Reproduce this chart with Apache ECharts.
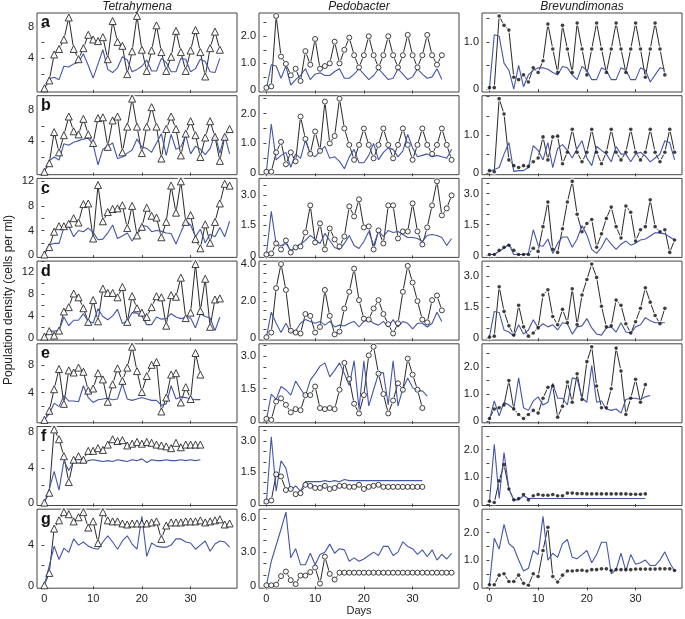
<!DOCTYPE html>
<html><head><meta charset="utf-8">
<script src="https://cdn.jsdelivr.net/npm/echarts@6/dist/echarts.min.js"></script>
<style>html,body{margin:0;padding:0;background:#fff}#c{width:685px;height:619px}</style>
</head><body><div id="c"></div>
<script>
// ---- DATA (value per day, day = index) ----
const columnTitles = ['Tetrahymena', 'Pedobacter', 'Brevundimonas'];
const rowLetters = ['a', 'b', 'c', 'd', 'e', 'f', 'g'];
const xTickValues = [0, 10, 20, 30];

// Tetrahymena (triangles = observed, line = model)
const tet_a_pts = [0.2,1.2,4.5,5.2,6.4,9.2,5.2,3.9,5.3,7.0,6.4,6.2,6.7,3.9,8.75,6.1,5.6,2.0,4.9,9.4,5.1,2.4,5.0,8.2,4.8,2.4,4.2,7.5,4.8,2.4,5.0,7.6,4.8,1.7,5.3,7.4,5.1];
const tet_a_line = [0.1,1.4,1.6,1.3,3.0,2.9,3.3,3.5,4.6,3.1,1.5,3.3,5.1,2.6,2.2,2.8,4.2,3.8,2.3,2.6,3.0,3.8,2.4,2.4,4.0,3.5,2.3,2.3,4.0,3.9,2.3,2.7,3.9,3.6,2.3,2.2,4.0];
const tet_b_pts = [0.1,1.2,5.2,2.6,4.8,7.2,5.3,4.9,6.9,4.9,3.8,7.0,7.1,3.3,6.7,7.2,2.6,5.9,9.5,5.9,2.5,5.9,8.4,5.9,1.8,5.6,7.2,5.6,2.2,5.0,6.6,4.8,2.0,4.5,6.6,4.6,1.5,4.6,5.6];
const tet_b_line = [0.1,1.5,2.0,1.6,3.7,3.5,3.9,4.1,4.3,4.4,3.6,1.0,3.0,3.4,3.8,1.8,2.0,2.5,2.9,4.3,3.3,3.1,2.6,3.8,5.0,2.2,4.9,3.0,3.3,4.8,2.4,3.4,3.0,2.3,3.1,4.9,2.5,4.8,2.4];
const tet_c_pts = [0.1,1.3,3.8,4.7,4.7,5.1,6.0,5.3,8.3,8.4,2.7,11.4,5.5,7.0,7.5,7.6,8.1,4.4,8.0,3.2,4.6,7.7,6.4,6.1,2.9,5.4,11.3,6.9,12.0,5.4,6.5,2.6,1.1,5.0,2.0,5.4,8.4,11.6,11.3];
const tet_c_line = [0.1,1.7,1.9,1.9,4.5,4.7,3.0,4.0,3.8,4.4,3.7,2.5,2.6,3.6,4.9,2.7,3.1,3.6,2.3,3.4,4.8,4.7,3.8,4.0,3.9,3.6,3.5,1.8,3.7,5.5,4.9,3.0,4.2,2.0,3.4,3.0,4.5,3.0,5.5];
const tet_d_pts = [0.2,1.2,0.4,1.3,4.8,5.6,8.1,7.4,5.4,2.9,6.9,3.0,9.0,8.2,8.2,7.4,9.3,2.9,7.6,5.4,4.6,3.8,5.6,7.6,7.4,2.2,7.8,7.5,11.0,3.6,4.6,13.5,4.9,10.8,2.0,7.0,7.2];
const tet_d_line = [0.1,1.2,1.2,1.3,3.8,2.2,3.2,3.2,4.4,3.0,2.7,5.3,3.9,3.3,4.0,5.2,2.6,3.0,4.6,4.5,4.0,2.4,2.4,3.8,3.4,3.5,4.4,3.8,3.5,3.7,3.6,1.8,4.4,3.9,3.6,1.3,3.8];
const tet_e_pts = [0.1,1.4,4.5,7.4,2.4,7.2,6.9,7.6,7.0,4.3,4.6,6.8,5.9,2.7,5.2,7.5,5.7,7.6,10.6,7.1,4.1,6.4,8.0,8.4,1.3,3.3,6.6,6.8,2.6,4.8,3.1,9.7,6.6];
const tet_e_line = [0.1,1.0,2.5,2.0,3.6,2.8,2.8,2.7,5.0,3.3,2.6,3.0,3.1,3.2,3.0,3.1,5.3,3.1,2.9,3.1,3.3,3.1,2.9,2.9,2.2,2.4,5.0,3.1,3.4,3.3,3.1,3.0,3.0];
const tet_f_pts = [0.1,1.2,8.3,7.2,5.3,2.4,4.9,5.3,4.9,5.9,5.9,6.2,6.0,6.6,7.2,7.0,7.1,6.5,6.7,6.9,6.7,6.9,6.8,6.6,6.5,6.4,6.2,6.8,6.3,6.6,6.6,6.6,6.6];
const tet_f_line = [0.1,1.6,3.6,1.5,4.8,3.7,4.7,4.5,4.6,4.8,4.9,4.8,4.7,4.8,4.7,4.9,4.8,4.7,4.9,4.8,5.0,4.6,4.9,4.8,4.8,4.9,4.8,4.8,4.9,4.8,4.9,4.8,4.9];
const tet_g_pts = [0.1,1.3,5.6,6.4,7.2,7.0,6.3,6.7,7.2,5.7,6.3,4.2,7.2,6.4,6.3,6.3,6.1,6.0,6.1,6.1,6.1,6.1,6.2,6.3,4.6,5.9,6.2,6.2,6.2,6.3,6.3,6.3,6.4,6.2,6.3,6.4,6.5,6.0,6.1];
const tet_g_line = [0.1,2.0,3.9,2.6,3.7,3.3,4.6,4.0,4.3,3.9,3.7,3.6,4.3,4.9,4.3,3.6,4.4,4.9,4.1,3.6,6.8,2.9,4.2,3.9,3.8,3.8,4.0,4.6,4.6,4.3,4.2,3.6,4.0,4.4,3.4,4.1,4.4,4.3,3.8];

// Pedobacter (open circles = observed, line = model)
const ped_a_pts = [0.1,0.15,2.75,1.25,0.98,0.56,0.8,0.35,1.45,0.95,1.9,0.8,0.9,1.0,1.8,1.0,1.5,1.95,1.3,0.85,1.3,2.0,1.3,0.85,1.3,2.0,1.3,0.85,1.3,2.05,1.3,0.85,1.3,2.05,1.3,0.95,1.3];
const ped_a_line = [0.05,0.95,0.9,0.45,0.9,0.2,0.4,0.55,0.8,0.4,0.6,0.65,0.55,0.55,0.7,0.8,0.45,0.45,0.6,0.8,0.6,0.4,0.55,0.8,0.6,0.4,0.45,0.8,0.6,0.4,0.5,0.8,0.6,0.45,0.5,0.8,0.4];
const ped_b_pts = [0.05,0.05,0.7,1.05,0.3,0.7,0.4,1.9,1.15,0.65,1.4,0.75,2.4,1.0,1.25,2.5,1.5,0.95,0.45,0.95,1.5,0.95,0.5,0.95,1.5,0.95,0.5,0.95,1.5,0.95,0.45,0.95,1.5,0.95,0.65,0.95,1.5,0.95,0.45];
const ped_b_line = [0.05,1.65,0.45,0.6,0.7,0.2,0.65,0.5,1.1,0.65,0.55,0.75,0.9,0.5,0.55,0.4,0.15,0.55,0.8,0.35,0.35,0.6,1.0,0.45,0.7,0.85,0.8,0.55,0.75,1.3,0.85,0.55,0.6,0.65,0.55,0.6,0.55,0.5,0.8];
const ped_c_pts = [0.05,0.1,0.6,0.3,0.75,0.15,0.4,0.45,1.15,2.5,0.65,1.6,0.3,1.35,0.8,0.45,0.95,2.45,1.95,2.8,1.4,1.45,0.3,1.25,0.6,2.5,2.5,0.85,1.2,1.2,2.6,1.2,0.55,1.4,2.5,3.7,2.0,2.35,3.0];
const ped_c_line = [0.05,2.2,0.55,0.5,0.6,0.25,0.4,0.55,0.75,1.0,0.8,0.6,1.1,0.75,0.4,0.3,0.6,1.0,0.5,0.35,0.7,1.2,0.5,1.2,0.95,1.25,1.15,1.2,1.05,0.9,0.9,0.85,0.7,1.0,1.05,1.0,0.9,0.5,0.85];
const ped_d_pts = [0.05,0.3,2.7,4.0,2.6,0.4,0.3,0.25,1.3,1.2,0.3,0.6,2.6,1.2,0.2,0.35,1.6,2.5,3.75,2.05,1.05,1.0,1.6,2.05,1.3,0.75,0.25,0.8,2.5,3.9,3.0,2.0,1.0,0.85,2.05,2.3,1.5];
const ped_d_line = [0.05,1.4,0.8,0.3,0.8,0.3,0.4,0.8,1.0,0.9,0.8,0.9,0.7,0.9,0.6,0.7,0.65,0.8,0.9,0.6,0.9,1.0,0.8,0.7,0.9,0.6,1.0,0.6,0.9,0.8,0.5,0.8,0.8,0.6,0.8,1.4,0.9];
const ped_e_pts = [0.1,0.05,0.9,1.05,0.75,0.4,0.55,0.5,1.2,1.2,1.6,0.6,0.55,0.6,0.55,1.45,2.7,1.95,0.8,0.35,1.2,3.05,3.45,2.2,1.25,0.35,0.95,1.75,1.45,2.9,2.15,1.45,0.6];
const ped_e_line = [0.05,1.25,1.0,1.6,1.45,1.2,1.85,1.5,1.15,1.9,2.2,2.55,2.7,2.05,2.35,2.7,2.2,1.65,2.8,0.55,2.8,0.7,1.45,2.2,2.25,0.75,2.8,0.7,1.5,2.0,1.55,1.4,1.4,1.15];
const ped_f_pts = [0.1,0.15,1.4,1.3,0.65,0.7,0.45,0.5,0.9,0.85,0.75,0.75,0.85,0.7,0.75,0.85,0.85,0.8,0.8,0.9,0.7,0.8,0.85,0.9,0.8,0.8,0.8,0.8,0.8,0.8,0.8,0.8,0.8];
const ped_f_line = [0.05,3.2,0.6,2.05,1.7,0.65,0.85,0.6,1.05,1.05,1.05,1.05,1.1,1.05,1.1,1.05,1.15,1.1,1.1,1.1,1.1,1.1,1.1,1.1,1.1,1.1,1.1,1.1,1.1,1.1,1.1,1.1,1.1];
const ped_g_pts = [0.1,0.1,0.15,0.9,1.3,0.55,0.2,0.95,0.95,1.25,1.65,0.25,2.6,1.1,0.6,1.2,1.2,1.2,1.2,1.2,1.2,1.2,1.2,1.2,1.2,1.2,1.2,1.2,1.2,1.2,1.2,1.2,1.2,1.2,1.2,1.2,1.2,1.2,1.2];
const ped_g_line = [0.1,2.2,3.6,5.0,6.5,2.5,3.3,1.9,1.9,2.9,1.9,2.8,3.0,3.7,2.9,3.3,3.2,2.2,2.5,2.2,2.4,2.7,3.0,2.7,3.5,3.5,2.7,3.0,3.9,3.5,3.3,2.8,3.2,2.6,3.2,2.3,2.8,2.4,2.9];

// Brevundimonas (filled dots = observed, line = model)
const brv_a_pts = [0.03,0.03,1.55,1.35,1.25,0.25,0.2,0.3,0.15,0.45,0.35,0.6,1.38,0.85,0.35,1.35,0.85,0.35,1.4,0.85,0.3,0.85,1.4,0.85,0.35,0.85,1.4,0.85,0.35,0.85,1.4,0.85,0.25,0.85,1.4,0.85,0.3];
const brv_a_line = [0.0,1.15,1.12,0.55,0.4,0.0,0.5,0.05,0.3,0.4,0.45,0.45,0.42,0.35,0.3,0.48,0.45,0.3,0.2,0.48,0.4,0.2,0.2,0.45,0.4,0.2,0.2,0.45,0.4,0.2,0.2,0.45,0.4,0.15,0.3,0.45,0.42];
const brv_b_pts = [0.07,0.04,1.95,1.55,0.35,0.2,0.15,0.2,0.18,0.3,0.4,0.95,0.35,0.95,0.97,0.25,0.55,1.15,0.55,0.3,0.55,1.15,0.55,0.25,0.55,1.15,0.55,0.35,0.55,1.15,0.55,0.35,0.55,1.15,0.55,0.3,0.55,1.15,0.55];
const brv_b_line = [0.05,0.1,0.15,0.5,0.8,0.05,0.07,0.07,0.15,0.72,0.6,0.35,0.8,0.15,0.65,0.75,0.6,0.4,0.65,0.85,0.4,0.2,0.7,0.6,0.5,0.3,0.7,0.5,0.5,0.3,0.5,0.55,0.45,0.3,0.4,0.5,0.85,0.8,0.35];
const brv_c_pts = [0.05,0.05,0.25,0.4,0.5,0.25,0.05,0.05,0.05,0.35,0.2,1.4,2.6,0.3,0.15,1.3,2.6,3.6,2.0,1.15,1.55,1.75,0.4,1.05,1.8,2.35,1.4,0.85,2.4,2.1,0.7,1.25,1.4,2.7,1.4,1.15,1.25,0.15,0.75];
const brv_c_line = [0.05,0.05,0.2,0.35,0.55,0.05,0.05,0.05,0.1,1.25,0.5,0.45,0.8,0.1,0.6,0.9,0.9,0.4,0.8,1.45,1.0,0.3,0.1,0.4,0.85,0.55,0.3,0.55,0.7,0.5,0.6,0.75,0.8,0.95,1.1,1.1,1.05,0.9,0.75];
const brv_d_pts = [0.05,0.1,2.5,1.3,0.6,0.15,1.6,0.55,0.1,0.25,0.5,2.1,2.35,1.05,0.65,1.4,0.75,2.4,0.65,2.1,2.85,3.6,2.95,1.55,0.55,0.6,1.85,1.6,0.7,0.25,0.8,1.45,2.45,1.75,1.1,0.7,1.45];
const brv_d_line = [0.05,1.3,1.25,0.4,0.3,0.1,0.65,0.2,0.4,0.9,0.5,0.7,0.55,0.65,0.4,0.75,0.7,0.2,0.55,0.6,0.95,0.5,0.2,0.15,0.5,0.55,0.3,0.75,0.3,0.25,0.55,0.65,1.0,0.85,0.75,0.75,0.75];
const brv_e_pts = [0.1,0.45,0.5,0.6,1.5,0.45,0.25,0.1,0.25,0.4,0.3,0.85,1.25,1.3,0.15,0.55,1.45,0.7,1.75,0.8,2.2,2.75,1.3,0.5,0.5,1.2,2.7,1.85,0.25,0.85,1.55,0.7,1.35];
const brv_e_line = [0.05,0.75,0.2,0.7,0.6,0.45,1.6,0.5,0.4,0.75,0.9,0.6,0.7,1.4,0.85,0.85,0.6,1.6,1.55,0.85,0.7,2.05,0.7,0.75,0.45,0.4,0.45,0.3,0.8,0.85,0.85,0.8,0.9,0.95];
const brv_f_pts = [0.1,0.05,0.85,1.45,0.55,0.15,0.2,0.35,0.15,0.3,0.35,0.32,0.32,0.35,0.3,0.3,0.4,0.4,0.38,0.38,0.37,0.37,0.37,0.37,0.37,0.37,0.37,0.37,0.37,0.36,0.36,0.36,0.37];
const brv_f_line = [0.05,2.2,0.2,1.9,0.55,0.15,0.15,0.3,0.2,0.2,0.2,0.2,0.2,0.2,0.2,0.2,0.2,0.2,0.2,0.2,0.2,0.2,0.2,0.2,0.2,0.2,0.2,0.2,0.2,0.2,0.2,0.2,0.2];
const brv_g_pts = [0.1,0.1,0.45,0.5,0.22,0.22,0.45,0.15,0.08,0.5,0.4,1.35,2.2,0.4,0.2,0.45,0.6,0.6,0.62,0.63,0.6,0.65,0.65,0.68,0.68,0.62,0.65,0.65,0.65,0.65,0.67,0.67,0.67,0.67,0.67,0.68,0.68,0.68,0.62];
const brv_g_line = [0.1,1.8,1.4,2.3,1.6,1.45,1.0,0.6,0.7,1.35,1.2,2.6,1.0,1.25,1.1,1.6,1.75,1.1,1.05,1.2,1.35,0.9,1.2,1.65,1.65,0.5,0.65,1.25,0.6,1.2,0.85,0.9,1.0,0.8,0.8,1.0,1.3,0.9,0.6];

// Axis tick settings per column (tick spacing / labelled spacing), rows a..g
const yTickStep = [[2,2,2,2,2,2,2],[0.5,0.5,0.5,0.5,0.5,0.5,1],[0.5,0.5,0.5,0.5,0.5,0.5,0.5]];
const yLabelStep = [[4,4,4,4,4,4,4],[1,1,1.5,2,1.5,1.5,3],[1,1,1.5,1.5,1,1,1]];
const yHideZero = [[true,true,false,false,true,false,false],[false,false,false,false,false,false,false],[false,false,false,false,false,false,false]];
const yMaxOverride = {'1-5': 3.55, '2-5': 2.75, '2-6': 2.75};
const yLabelMax = {'2-1': 1.0};

const panelData = [
  [[tet_a_pts,tet_a_line],[tet_b_pts,tet_b_line],[tet_c_pts,tet_c_line],[tet_d_pts,tet_d_line],[tet_e_pts,tet_e_line],[tet_f_pts,tet_f_line],[tet_g_pts,tet_g_line]],
  [[ped_a_pts,ped_a_line],[ped_b_pts,ped_b_line],[ped_c_pts,ped_c_line],[ped_d_pts,ped_d_line],[ped_e_pts,ped_e_line],[ped_f_pts,ped_f_line],[ped_g_pts,ped_g_line]],
  [[brv_a_pts,brv_a_line],[brv_b_pts,brv_b_line],[brv_c_pts,brv_c_line],[brv_d_pts,brv_d_line],[brv_e_pts,brv_e_line],[brv_f_pts,brv_f_line],[brv_g_pts,brv_g_line]]
];

// ---- LAYOUT / STYLE ----
const COL_LEFT = [37, 259, 482], COL_W = 200;
const ROW_TOP0 = 13, ROW_STEP = 82.7, ROW_H = 79;
const X_MIN = -1.52, X_MAX = 39.52;
const FONT = 'Liberation Sans, Arial, Helvetica, sans-serif';
const BLUE = '#4656a6', INK = '#111';
const markerStyle = [
  {symbol: 'triangle', size: 7, mask: 8, item: {color: '#fff', borderColor: INK, borderWidth: 1}},
  {symbol: 'circle', size: 5, mask: 7, item: {color: '#fff', borderColor: INK, borderWidth: 1}},
  {symbol: 'circle', size: 3.6, mask: 6, item: {color: INK}}
];

const grids = [], xAxes = [], yAxes = [], series = [], graphics = [];
function fmt(col, v) {
  if (col === 0) return String(Math.round(v));
  return v === 0 ? '0' : v.toFixed(1);
}
let idx = 0;
for (let c = 0; c < 3; c++) {
  for (let r = 0; r < 7; r++) {
    const [pts, line] = panelData[c][r];
    const all = pts.concat(line);
    const mn = Math.min(...all);
    let mx = Math.max(...all);
    const key = c + '-' + r;
    if (yMaxOverride[key] !== undefined) mx = yMaxOverride[key];
    const pad = 0.04 * (mx - mn);
    const yMin = mn - pad, yMax = mx + pad;
    const ts = yTickStep[c][r], ls = yLabelStep[c][r];
    const lmax = yLabelMax[key] !== undefined ? yLabelMax[key] : Infinity;
    const ticks = [], labels = [];
    for (let k = 0; k * ts <= yMax + 1e-9; k++) {
      const v = Math.round(k * ts * 1000) / 1000;
      ticks.push(v);
      const q = v / ls;
      if (Math.abs(q - Math.round(q)) < 1e-6 && !(v === 0 && yHideZero[c][r]) && v <= lmax + 1e-9) labels.push(v);
    }
    const top = ROW_TOP0 + r * ROW_STEP;
    grids.push({left: COL_LEFT[c], top: top, width: COL_W, height: ROW_H, show: true,
      borderColor: '#444', borderWidth: 1, backgroundColor: 'transparent', containLabel: false});
    xAxes.push({type: 'value', gridIndex: idx, min: X_MIN, max: X_MAX,
      axisLine: {show: false}, splitLine: {show: false},
      axisTick: {show: true, inside: false, length: 3, customValues: xTickValues, lineStyle: {color: '#444', width: 1}},
      axisLabel: {show: r === 6, customValues: xTickValues, margin: 5, color: '#222', fontSize: 11, fontFamily: FONT}});
    yAxes.push({type: 'value', gridIndex: idx, min: yMin, max: yMax,
      axisLine: {show: false}, splitLine: {show: false},
      axisTick: {show: true, inside: false, length: 3, customValues: ticks, lineStyle: {color: '#444', width: 1}},
      axisLabel: {show: true, customValues: labels, margin: 3, color: '#222', fontSize: 11, fontFamily: FONT,
        formatter: (v) => fmt(c, v)}});
    const ptsData = pts.map((v, d) => [d, v]);
    const lineData = line.map((v, d) => [d, v]);
    const ms = markerStyle[c];
    series.push({type: 'line', xAxisIndex: idx, yAxisIndex: idx, data: ptsData, symbol: 'none',
      lineStyle: {color: INK, width: 0.9}, z: 2, silent: true, animation: false});
    series.push({type: 'scatter', xAxisIndex: idx, yAxisIndex: idx, data: ptsData, symbol: 'circle',
      symbolSize: ms.mask, itemStyle: {color: '#fff'}, z: 3, silent: true, animation: false});
    series.push({type: 'line', xAxisIndex: idx, yAxisIndex: idx, data: lineData, symbol: 'none',
      lineStyle: {color: BLUE, width: 1.1}, z: 4, silent: true, animation: false});
    series.push({type: 'scatter', xAxisIndex: idx, yAxisIndex: idx, data: ptsData, symbol: ms.symbol,
      symbolSize: ms.size, itemStyle: ms.item, z: 5, silent: true, animation: false});
    if (c === 0) {
      graphics.push({type: 'text', left: COL_LEFT[0] + 4, top: top + 2, z: 10,
        style: {text: rowLetters[r], font: 'bold 16px ' + FONT, fill: '#111'}});
    }
    idx++;
  }
}
for (let c = 0; c < 3; c++) {
  graphics.push({type: 'text', x: COL_LEFT[c] + COL_W / 2, y: 7, z: 10,
    style: {text: columnTitles[c], font: 'italic 12px ' + FONT, fill: '#222', align: 'center', verticalAlign: 'middle'}});
}
graphics.push({type: 'text', x: 9, y: 300, rotation: Math.PI / 2, z: 10,
  style: {text: 'Population density (cells per ml)', font: '12px ' + FONT, fill: '#222', align: 'center', verticalAlign: 'middle'}});
graphics.push({type: 'text', x: COL_LEFT[1] + COL_W / 2, y: 611, z: 10,
  style: {text: 'Days', font: '11px ' + FONT, fill: '#222', align: 'center', verticalAlign: 'middle'}});

const chart = echarts.init(document.getElementById('c'), null, {renderer: 'canvas'});
chart.setOption({animation: false, backgroundColor: '#fff', grid: grids, xAxis: xAxes, yAxis: yAxes, series: series, graphic: graphics});
</script></body></html>
